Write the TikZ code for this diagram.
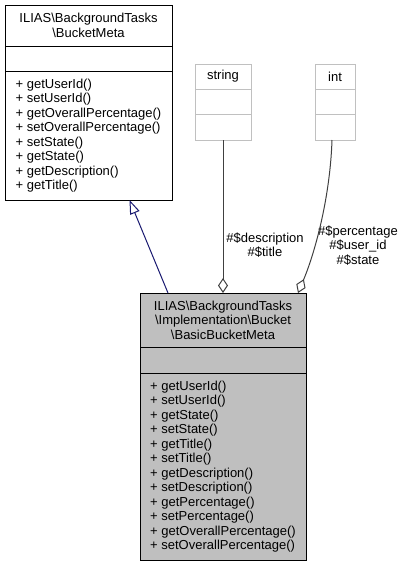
\documentclass[tikz,border=0pt]{standalone}
\usepackage{fontspec}
\setmainfont{Liberation Sans}
\usetikzlibrary{positioning,arrows.meta}
\definecolor{basegray}{HTML}{BFBFBF}
\definecolor{typegray}{HTML}{C0C0C0}
\definecolor{edgegray}{HTML}{404040}
\definecolor{genblue}{HTML}{191970}
\newcommand{\bs}{\textbackslash}

\begin{document}
\begin{tikzpicture}[%
  x=1pt,
  y=-1pt,
  font=\fontsize{13}{14.5}\selectfont,
  box/.style={
    draw,
    line width=1pt,
    inner sep=0pt,
    outer sep=0pt,
    align=center,},
  meth/.style={
    box,
    align=left,},
  gen/.style={
    -{Triangle[open,length=14pt,width=10pt]},
    line width=1pt,
    genblue,},
  agg/.style={
    -{Diamond[open,length=15pt,width=10pt]},
    line width=1pt,
    edgegray,},
  lbl/.style={
    align=center,
    inner sep=0pt,}
  ]
  \useasboundingbox (0,0) rectangle (405,565);
  %% Nodes
  \node[box, anchor=north west, fill=white, minimum width=167pt, minimum height=41pt] (BMt) at (5,5)
    {ILIAS\bs BackgroundTasks\\\bs BucketMeta};
  \node[box, below=0pt of BMt, fill=white, minimum width=167pt, minimum height=25pt] (BMa) {};
  \node[meth, below=0pt of BMa, fill=white, minimum width=167pt, minimum height=129pt] (BMm)
    {+ getUserId()\\+ setUserId()\\+ getOverallPercentage()\\+ setOverallPercentage()\\%
     + setState()\\+ getState()\\+ getDescription()\\+ getTitle()};
  \node[box, anchor=north west, draw=typegray, minimum width=56pt, minimum height=25pt] (STRt) at (195,64) {string};
  \node[box, below=0pt of STRt, draw=typegray, minimum width=56pt, minimum height=25pt] (STRa) {};
  \node[box, below=0pt of STRa, draw=typegray, minimum width=56pt, minimum height=26pt] (STRo) {};
  \node[box, anchor=north west, draw=typegray, minimum width=40pt, minimum height=25pt] (INTt) at (315,64) {int};
  \node[box, below=0pt of INTt, draw=typegray, minimum width=40pt, minimum height=25pt] (INTa) {};
  \node[box, below=0pt of INTa, draw=typegray, minimum width=40pt, minimum height=26pt] (INTo) {};
  \node[box, anchor=north west, fill=basegray, minimum width=166pt, minimum height=54pt] (BBMt) at (140,293)
    {ILIAS\bs BackgroundTasks\\\bs Implementation\bs Bucket\\\bs BasicBucketMeta};
  \node[box, below=0pt of BBMt, fill=basegray, minimum width=166pt, minimum height=26pt] (BBMa) {};
  \node[meth, below=0pt of BBMa, fill=basegray, minimum width=166pt, minimum height=187pt] (BBMm)
    {+ getUserId()\\+ setUserId()\\+ getState()\\+ setState()\\+ getTitle()\\+ setTitle()\\%
     + getDescription()\\+ setDescription()\\+ getPercentage()\\+ setPercentage()\\%
     + getOverallPercentage()\\+ setOverallPercentage()};
  \node[lbl] (STRl) at (265,245) {\#\$description\\\#\$title};
  \node[lbl] (INTl) at (358,245.5) {\#\$percentage\\\#\$user\_id\\\#\$state};
  %% Edges
  \draw[gen] ([xshift=-55pt]BBMt.north) to ([xshift=41pt]BMm.south);
  \draw[agg] (STRo.south) to (BBMt.north);
  \draw[agg] ([xshift=-3pt]INTo.south) .. controls (330,200) and (314,255) .. ([xshift=-8pt]BBMt.north east);
\end{tikzpicture}
\end{document}
